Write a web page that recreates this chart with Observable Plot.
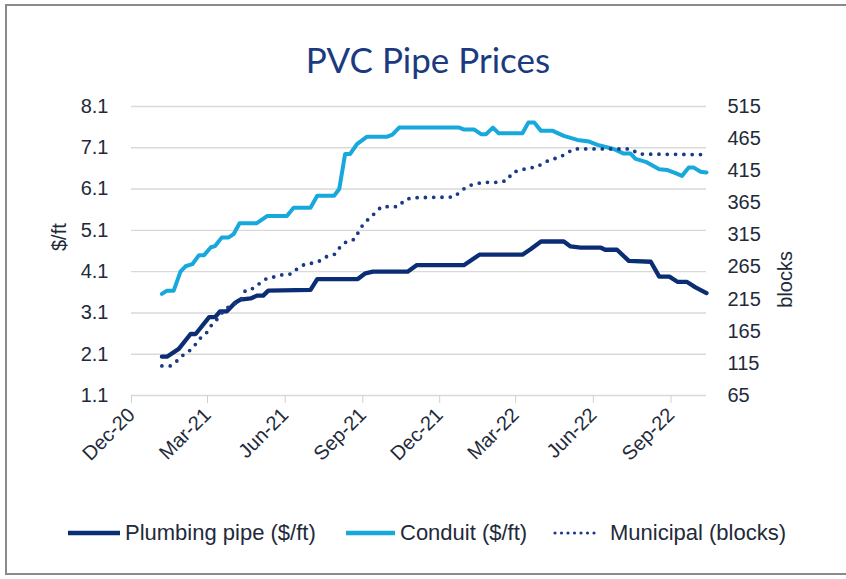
<!DOCTYPE html>
<html><head><meta charset="utf-8">
<script src="https://cdn.jsdelivr.net/npm/d3@7"></script>
<script src="https://cdn.jsdelivr.net/npm/@observablehq/plot@0.6"></script>
<style>
html,body{margin:0;padding:0;background:#fff;overflow:hidden;}
#wrap{position:relative;width:846px;height:579px;overflow:hidden;font-family:"Liberation Sans",Arial,sans-serif;color:#222a3a;}
#frame{position:absolute;left:5px;top:4px;width:900px;height:571px;border:2px solid #8a8a8a;border-right:none;box-sizing:border-box;}
#title{position:absolute;left:0;width:856px;top:42px;text-align:center;font-family:Lato,"Open Sans",sans-serif;font-size:35px;line-height:35px;color:#1c3a80;}
#chart{position:absolute;left:0;top:90px;}
.leg{position:absolute;top:519px;height:28px;display:flex;align-items:center;font-size:22px;white-space:nowrap;}
.leg svg{display:block;}
</style></head>
<body>
<div id="wrap">
  <div id="frame"></div>
  <div id="title">PVC Pipe Prices</div>
  <div id="chart"></div>
  <div id="legend"></div>
</div>
<script>
// ---- data ----
const plumbingDates = ["2021-01-06","2021-01-12","2021-01-26","2021-02-09","2021-02-15","2021-03-03","2021-03-10","2021-03-16","2021-03-24","2021-04-03","2021-04-09","2021-04-21","2021-04-29","2021-05-06","2021-05-12","2021-07-01","2021-07-09","2021-08-26","2021-09-04","2021-09-13","2021-10-24","2021-11-04","2021-12-30","2022-01-17","2022-03-09","2022-03-19","2022-03-31","2022-04-27","2022-05-05","2022-05-17","2022-06-10","2022-06-15","2022-06-29","2022-07-13","2022-08-08","2022-08-18","2022-08-30","2022-09-09","2022-09-20","2022-09-30","2022-10-13"];
const plumbingPrices = [2.04,2.04,2.23,2.59,2.59,3.00,3.00,3.14,3.14,3.35,3.42,3.45,3.52,3.52,3.64,3.66,3.92,3.92,4.06,4.10,4.10,4.26,4.26,4.51,4.51,4.65,4.83,4.83,4.71,4.68,4.68,4.63,4.63,4.36,4.34,3.98,3.98,3.85,3.85,3.72,3.58];

const conduitDates = ["2021-01-06","2021-01-12","2021-01-20","2021-01-28","2021-02-03","2021-02-11","2021-02-19","2021-02-25","2021-03-05","2021-03-10","2021-03-18","2021-03-26","2021-04-01","2021-04-08","2021-04-28","2021-05-11","2021-06-03","2021-06-11","2021-07-01","2021-07-09","2021-07-29","2021-08-04","2021-08-11","2021-08-17","2021-08-25","2021-09-06","2021-09-30","2021-10-06","2021-10-14","2021-12-24","2021-12-30","2022-01-11","2022-01-19","2022-01-25","2022-02-02","2022-02-09","2022-03-09","2022-03-16","2022-03-23","2022-03-31","2022-04-14","2022-04-27","2022-05-13","2022-05-27","2022-06-06","2022-06-25","2022-07-07","2022-07-15","2022-07-21","2022-08-02","2022-08-18","2022-08-28","2022-09-07","2022-09-14","2022-09-22","2022-09-28","2022-10-06","2022-10-13"];
const conduitPrices = [3.56,3.64,3.64,4.10,4.23,4.28,4.50,4.50,4.69,4.72,4.93,4.93,5.01,5.27,5.27,5.45,5.45,5.65,5.65,5.94,5.94,6.10,6.95,6.95,7.19,7.37,7.37,7.42,7.59,7.59,7.54,7.54,7.43,7.43,7.59,7.45,7.45,7.71,7.71,7.51,7.51,7.39,7.29,7.25,7.17,7.07,6.96,6.96,6.83,6.76,6.58,6.56,6.48,6.42,6.62,6.62,6.52,6.50];

const municipalDates = ["2021-01-06","2021-01-16","2021-01-24","2021-02-01","2021-02-09","2021-02-15","2021-02-21","2021-02-28","2021-03-06","2021-03-14","2021-03-20","2021-03-28","2021-04-09","2021-04-15","2021-04-25","2021-05-03","2021-05-11","2021-05-21","2021-05-31","2021-06-08","2021-06-15","2021-06-25","2021-07-03","2021-07-13","2021-07-21","2021-07-30","2021-08-05","2021-08-13","2021-08-22","2021-08-27","2021-09-02","2021-09-09","2021-09-16","2021-09-23","2021-10-13","2021-10-21","2021-10-30","2021-12-18","2021-12-26","2022-01-03","2022-01-11","2022-01-22","2022-02-10","2022-02-19","2022-02-25","2022-03-06","2022-03-16","2022-03-26","2022-04-03","2022-04-12","2022-04-21","2022-04-30","2022-05-09","2022-07-15","2022-07-25","2022-10-13"];
const municipalBlocks = [111,111,119,129,136,145,155,163,175,186,197,205,212,229,232,241,248,250,254,254,262,270,271,275,282,285,296,305,308,320,333,341,350,359,359,370,373,374,383,391,394,397,397,400,412,416,419,421,427,433,435,442,449,449,441,440];

const leftTicks = [1.1,2.1,3.1,4.1,5.1,6.1,7.1,8.1];
const rightTicks = [65,115,165,215,265,315,365,415,465,515];
const xTickDates = ["2020-12-01","2021-03-01","2021-06-01","2021-09-01","2021-12-01","2022-03-01","2022-06-01","2022-09-01"];
const xDomain = ["2020-12-01","2022-10-13"];
const seriesNames = ["Plumbing pipe ($/ft)","Conduit ($/ft)","Municipal (blocks)"];
const seriesColors = ["#0b2d74","#17a8dc","#1b3a85"];

// ---- build ----
const toLeft = b => 1.1 + (b - 65) * 7 / 450;
const fromLeft = v => 65 + (v - 1.1) * 450 / 7;
const plumbing = plumbingDates.map((d,i)=>({date:new Date(d), value:plumbingPrices[i]}));
const conduit = conduitDates.map((d,i)=>({date:new Date(d), value:conduitPrices[i]}));
const municipal = municipalDates.map((d,i)=>({date:new Date(d), value:municipalBlocks[i]}));

const chart = Plot.plot({
  width: 846, height: 395,
  marginLeft: 131, marginRight: 140, marginTop: 16, marginBottom: 90,
  style: {fontFamily:'"Liberation Sans", Arial, sans-serif', fontSize:"20px", color:"#222a3a", background:"transparent", overflow:"visible"},
  x: {type:"utc", domain: xDomain.map(d=>new Date(d))},
  y: {domain:[1.1, 8.1]},
  marks: [
    Plot.gridY(leftTicks, {stroke:"#d9d9d9", strokeOpacity:1, strokeWidth:1.4}),
    Plot.axisY(leftTicks, {anchor:"left", tickSize:0, tickPadding:23, tickFormat:d3.format(".1f"), label:null, fill:"#222a3a"}),
    Plot.axisY(rightTicks.map(toLeft), {anchor:"right", tickSize:0, tickPadding:21, tickFormat:v=>String(Math.round(fromLeft(v))), label:null, fill:"#222a3a"}),
    Plot.axisX(xTickDates.map(d=>new Date(d)), {tickSize:8, tickPadding:8, tickRotate:-45, tickFormat:d3.utcFormat("%b-%y"), label:null, stroke:"#d0d0d0", fill:"#222a3a"}),
    Plot.text(["$/ft"], {frameAnchor:"left", dx:-72, rotate:-90, fontSize:20, fill:"#222a3a"}),
    Plot.text(["blocks"], {frameAnchor:"right", dx:79, rotate:-90, fontSize:20, fill:"#222a3a"}),
    Plot.line(plumbing, {x:"date", y:"value", stroke:seriesColors[0], strokeWidth:4.3, strokeLinejoin:"round"}),
    Plot.line(conduit, {x:"date", y:"value", stroke:seriesColors[1], strokeWidth:4, strokeLinejoin:"round"}),
    Plot.line(municipal, {x:"date", y:d=>toLeft(d.value), stroke:seriesColors[2], strokeWidth:3.8, strokeDasharray:"0 8.3", strokeLinecap:"round", strokeLinejoin:"round"})
  ]
});
document.getElementById("chart").appendChild(chart);

// ---- legend ----
const legendPos = [{sx:68, sw:52, tx:125},{sx:346, sw:49, tx:400},{sx:553, sw:45, tx:610}];
const legend = document.getElementById("legend");
seriesNames.forEach((name,i)=>{
  const p = legendPos[i];
  const s = document.createElement("div");
  s.className = "leg"; s.style.left = p.sx + "px";
  const dash = i===2 ? 'stroke-dasharray="0 6.5" stroke-linecap="round" stroke-width="3.2"' : 'stroke-width="4.3"';
  s.innerHTML = `<svg width="${p.sw}" height="10"><line x1="${i===2?2:0}" x2="${p.sw}" y1="5" y2="5" stroke="${seriesColors[i]}" ${dash}/></svg>`;
  legend.appendChild(s);
  const t = document.createElement("div");
  t.className = "leg"; t.style.left = p.tx + "px"; t.textContent = name;
  legend.appendChild(t);
});
</script>
</body></html>
